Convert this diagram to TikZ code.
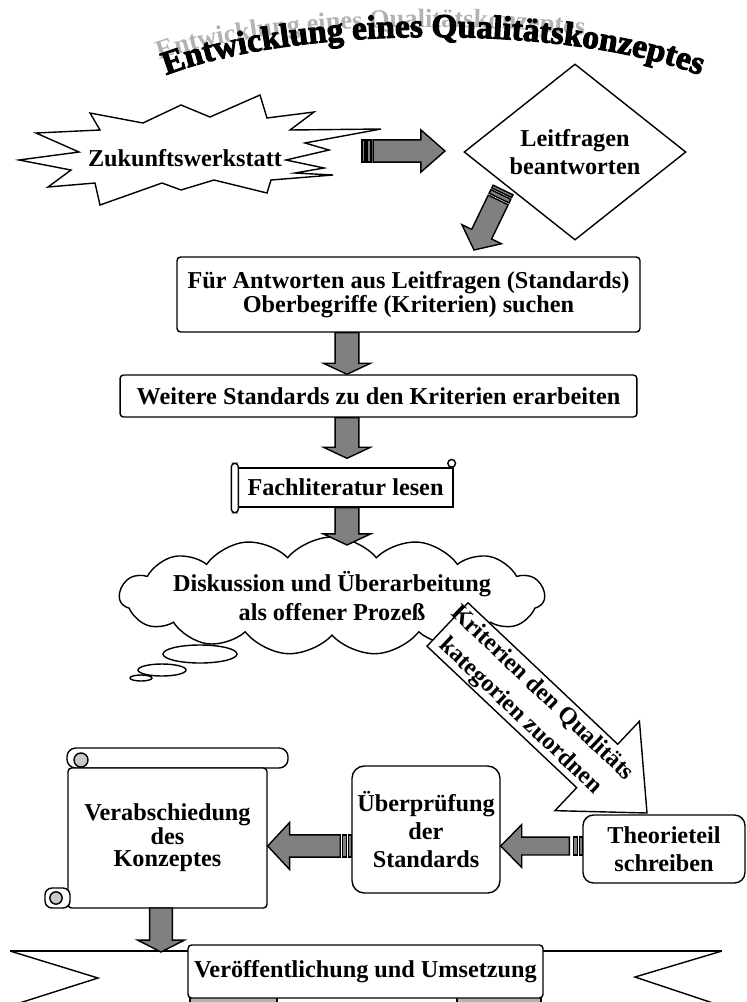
\documentclass[tikz,border=0pt]{standalone}
\usepackage{fontspec}
\setmainfont{Liberation Serif}
\newfontfamily\titlefont{Liberation Serif}[BoldFeatures={FakeBold=3}]
\usetikzlibrary{calc,shapes.geometric,shapes.symbols,decorations.text}

\definecolor{arrowgray}{HTML}{808080}
\definecolor{curlgray}{HTML}{C8C8C8}

\tikzset{
  txt/.style={font=\bfseries\fontsize{13.8}{16}\selectfont, align=center},
  plaque/.style={draw, fill=white, rounded corners=#1, txt, inner sep=0pt},
  plaque/.default=2pt,
  fatarrow/.style={fill=arrowgray, draw=black, line join=miter},
}

% block arrow: [opts]{tail}{tip}{half shaft}{half head}{head length}
\newcommand{\fatarrow}[6][]{%
  \coordinate (fa-h) at ($(#3)!#6!(#2)$);
  \filldraw[fatarrow,#1] ($(#2)!#4!90:(#3)$) -- ($(fa-h)!#4!90:(#3)$) -- ($(fa-h)!#5!90:(#3)$) -- (#3)
    -- ($(fa-h)!#5!-90:(#3)$) -- ($(fa-h)!#4!-90:(#3)$) -- ($(#2)!#4!-90:(#3)$) -- cycle;
}
% two bars at the tail of a striped arrow
\newcommand{\stripes}[3]{%
  \foreach \a/\b in {0pt/1.7pt, 2.8pt/5.1pt} {
    \coordinate (st-a) at ($(#1)!\a!(#2)$);
    \coordinate (st-b) at ($(#1)!\b!(#2)$);
    \filldraw[fatarrow] ($(st-a)!#3!90:(#2)$) -- ($(st-b)!#3!90:(#2)$)
      -- ($(st-b)!#3!-90:(#2)$) -- ($(st-a)!#3!-90:(#2)$) -- cycle;
  }
}

\begin{document}
\begin{tikzpicture}[x=0.02cm, y=-0.02cm, line width=0.8pt]
  \useasboundingbox (0,0) rectangle (747,1002);

  % title with its shadow
  \path[decorate, decoration={text along path, text align=left, text color=gray!60,
      text={|\bfseries\fontsize{15}{15}\selectfont|Entwicklung eines Qualitätskonzeptes}}]
    (160,60) .. controls (280,16) and (586,16) .. (716,62);
  \path[decorate, decoration={text along path, text align=center,
      text={|\titlefont\bfseries\fontsize{19}{19}\selectfont|Entwicklung eines Qualitätskonzeptes}}]
    (150,82) .. controls (280,22) and (586,22) .. (716,82);

  % start
  \draw[fill=white] (19,160) -- (79,152) -- (36,133) -- (100,130) -- (90,113) -- (143,123)
    -- (181,105) -- (210,117) -- (260,95) -- (267,118) -- (314,112) -- (290,130) -- (381,129)
    -- (305,143) -- (329,150) -- (286,160) -- (324,168) -- (295,173) -- (333,175) -- (271,180)
    -- (267,193) -- (214,180) -- (181,190) -- (162,183) -- (100,205) -- (95,183) -- (48,187)
    -- (71,170) -- cycle;
  \node[txt] (zukunft) at (185,158) {Zukunftswerkstatt};

  \node[draw, fill=white, diamond, minimum width=4.44cm, minimum height=2.52cm, inner sep=0pt,
    txt] (dia) at (575,152) {Leitfragen\\beantworten};

  \coordinate (r1s) at (362,151);
  \coordinate (r1e) at (445,151);
  \stripes{r1s}{r1e}{6.3pt}
  \coordinate (r1b) at ($(r1s)!6.3pt!(r1e)$);
  \fatarrow{r1b}{r1e}{6.3pt}{12pt}{13.7pt}

  \coordinate (g1s) at (503,190);
  \coordinate (g1e) at (474,250);
  \stripes{g1s}{g1e}{6.3pt}
  \coordinate (g1b) at ($(g1s)!6.3pt!(g1e)$);
  \fatarrow{g1b}{g1e}{6.3pt}{12.5pt}{10pt}

  % main column
  \node[plaque, minimum width=9.26cm, minimum height=1.5cm,
    font=\bfseries\fontsize{13.8}{12}\selectfont] (box1) at (408.5,294.5)
    {Für Antworten aus Leitfragen (Standards)\\Oberbegriffe (Kriterien) suchen};
  \node[plaque, minimum width=10.34cm, minimum height=0.84cm] (box2) at (378.5,396)
    {Weitere Standards zu den Kriterien erarbeiten};

  \node[draw, fill=white, txt, minimum width=4.3cm, minimum height=0.78cm, inner sep=0pt]
    (lit) at (345.5,487.5) {Fachliteratur lesen};
  \draw[fill=white, rounded corners=2pt] ($(lit.north west)+(-6,-4)$) rectangle ($(lit.south west)+(1,5)$);
  \draw[fill=white] ($(lit.north east)+(-2,-4)$) circle (2.2pt);

  \coordinate (col) at (347,0);
  \coordinate (d1s) at (box1.south -| col);
  \coordinate (d1e) at (box2.north -| col);
  \fatarrow{d1s}{d1e}{6.8pt}{13.4pt}{6.3pt}
  \coordinate (d2s) at (box2.south -| col);
  \coordinate (d2e) at ($(lit.north -| col)+(0,-9)$);
  \fatarrow{d2s}{d2e}{6.8pt}{13.4pt}{6.3pt}

  \node[cloud, draw, fill=white, cloud puffs=15, cloud puff arc=100, minimum width=8.5cm,
    minimum height=2.36cm, inner sep=0pt] (cloud) at (332,596) {};
  \node[txt, font=\bfseries\fontsize{13.8}{17}\selectfont] (disk) at (cloud.center)
    {Diskussion und Überarbeitung\\als offener Prozeß};
  \draw[fill=white] (200,654) ellipse [x radius=37, y radius=9];
  \draw[fill=white] (162,670) ellipse [x radius=24, y radius=6];
  \draw[fill=white] (141,678) ellipse [x radius=11, y radius=3];

  \coordinate (d3s) at (lit.south -| col);
  \coordinate (d3e) at (347,545);
  \fatarrow{d3s}{d3e}{6.8pt}{13.4pt}{6.3pt}

  % big arrow out of the cloud
  \coordinate (k1s) at (447.5,624.5);
  \coordinate (k1e) at (647,813);
  \fatarrow[fill=white]{k1s}{k1e}{17pt}{35pt}{39pt}
  \node[txt, rotate=-43.6, font=\bfseries\fontsize{13.8}{18}\selectfont] (krit) at (531,705)
    {Kriterien den Qualitäts\\kategorien zuordnen};

  % bottom row
  \node[plaque=6pt, minimum width=3.24cm, minimum height=1.36cm] (theorie) at (664,849)
    {Theorieteil\\schreiben};
  \node[plaque=7pt, minimum width=2.96cm, minimum height=2.54cm] (ueber) at (426,829.5)
    {Überprüfung\\der\\Standards};

  \draw[fill=white, rounded corners=5pt] (67,748) rectangle (288,768);
  \node[draw, fill=white, txt, minimum width=3.98cm, minimum height=2.8cm, inner sep=0pt,
    rounded corners=2pt, font=\bfseries\fontsize{13.8}{12.5}\selectfont] (verab) at (167.5,838)
    {Verabschiedung\\des\\Konzeptes};
  \draw[fill=curlgray] (81,760) circle (4pt);
  \draw[fill=white, rounded corners=4pt] (45,888) rectangle (70,908);
  \draw[fill=curlgray] (56,898) circle (3.5pt);

  \coordinate (row) at (0,846);
  \coordinate (l1s) at (theorie.west |- row);
  \coordinate (l1e) at (ueber.east |- row);
  \stripes{l1s}{l1e}{5.1pt}
  \coordinate (l1b) at ($(l1s)!7.4pt!(l1e)$);
  \fatarrow{l1b}{l1e}{5.1pt}{12.2pt}{12pt}
  \coordinate (l2s) at (ueber.west |- row);
  \coordinate (l2e) at (verab.east |- row);
  \stripes{l2s}{l2e}{6.3pt}
  \coordinate (l2b) at ($(l2s)!6.3pt!(l2e)$);
  \fatarrow{l2b}{l2e}{6.3pt}{13.4pt}{12.5pt}

  % banner
  \draw (10,951) -- (722,951);
  \draw (10,951) -- (98,978) -- (10,1006);
  \draw (722,951) -- (635,977) -- (722,1006);
  \draw[fill=arrowgray!60] (190,995) rectangle (277,1004);
  \draw[fill=arrowgray!60] (457,995) rectangle (541,1004);
  \node[plaque, minimum width=7.1cm, minimum height=1.06cm] (veroeff) at (365.5,971.5)
    {Veröffentlichung und Umsetzung};

  \coordinate (d4s) at (161,908);
  \coordinate (d4e) at (161,952);
  \fatarrow{d4s}{d4e}{6.5pt}{13.4pt}{6.8pt}
\end{tikzpicture}
\end{document}
